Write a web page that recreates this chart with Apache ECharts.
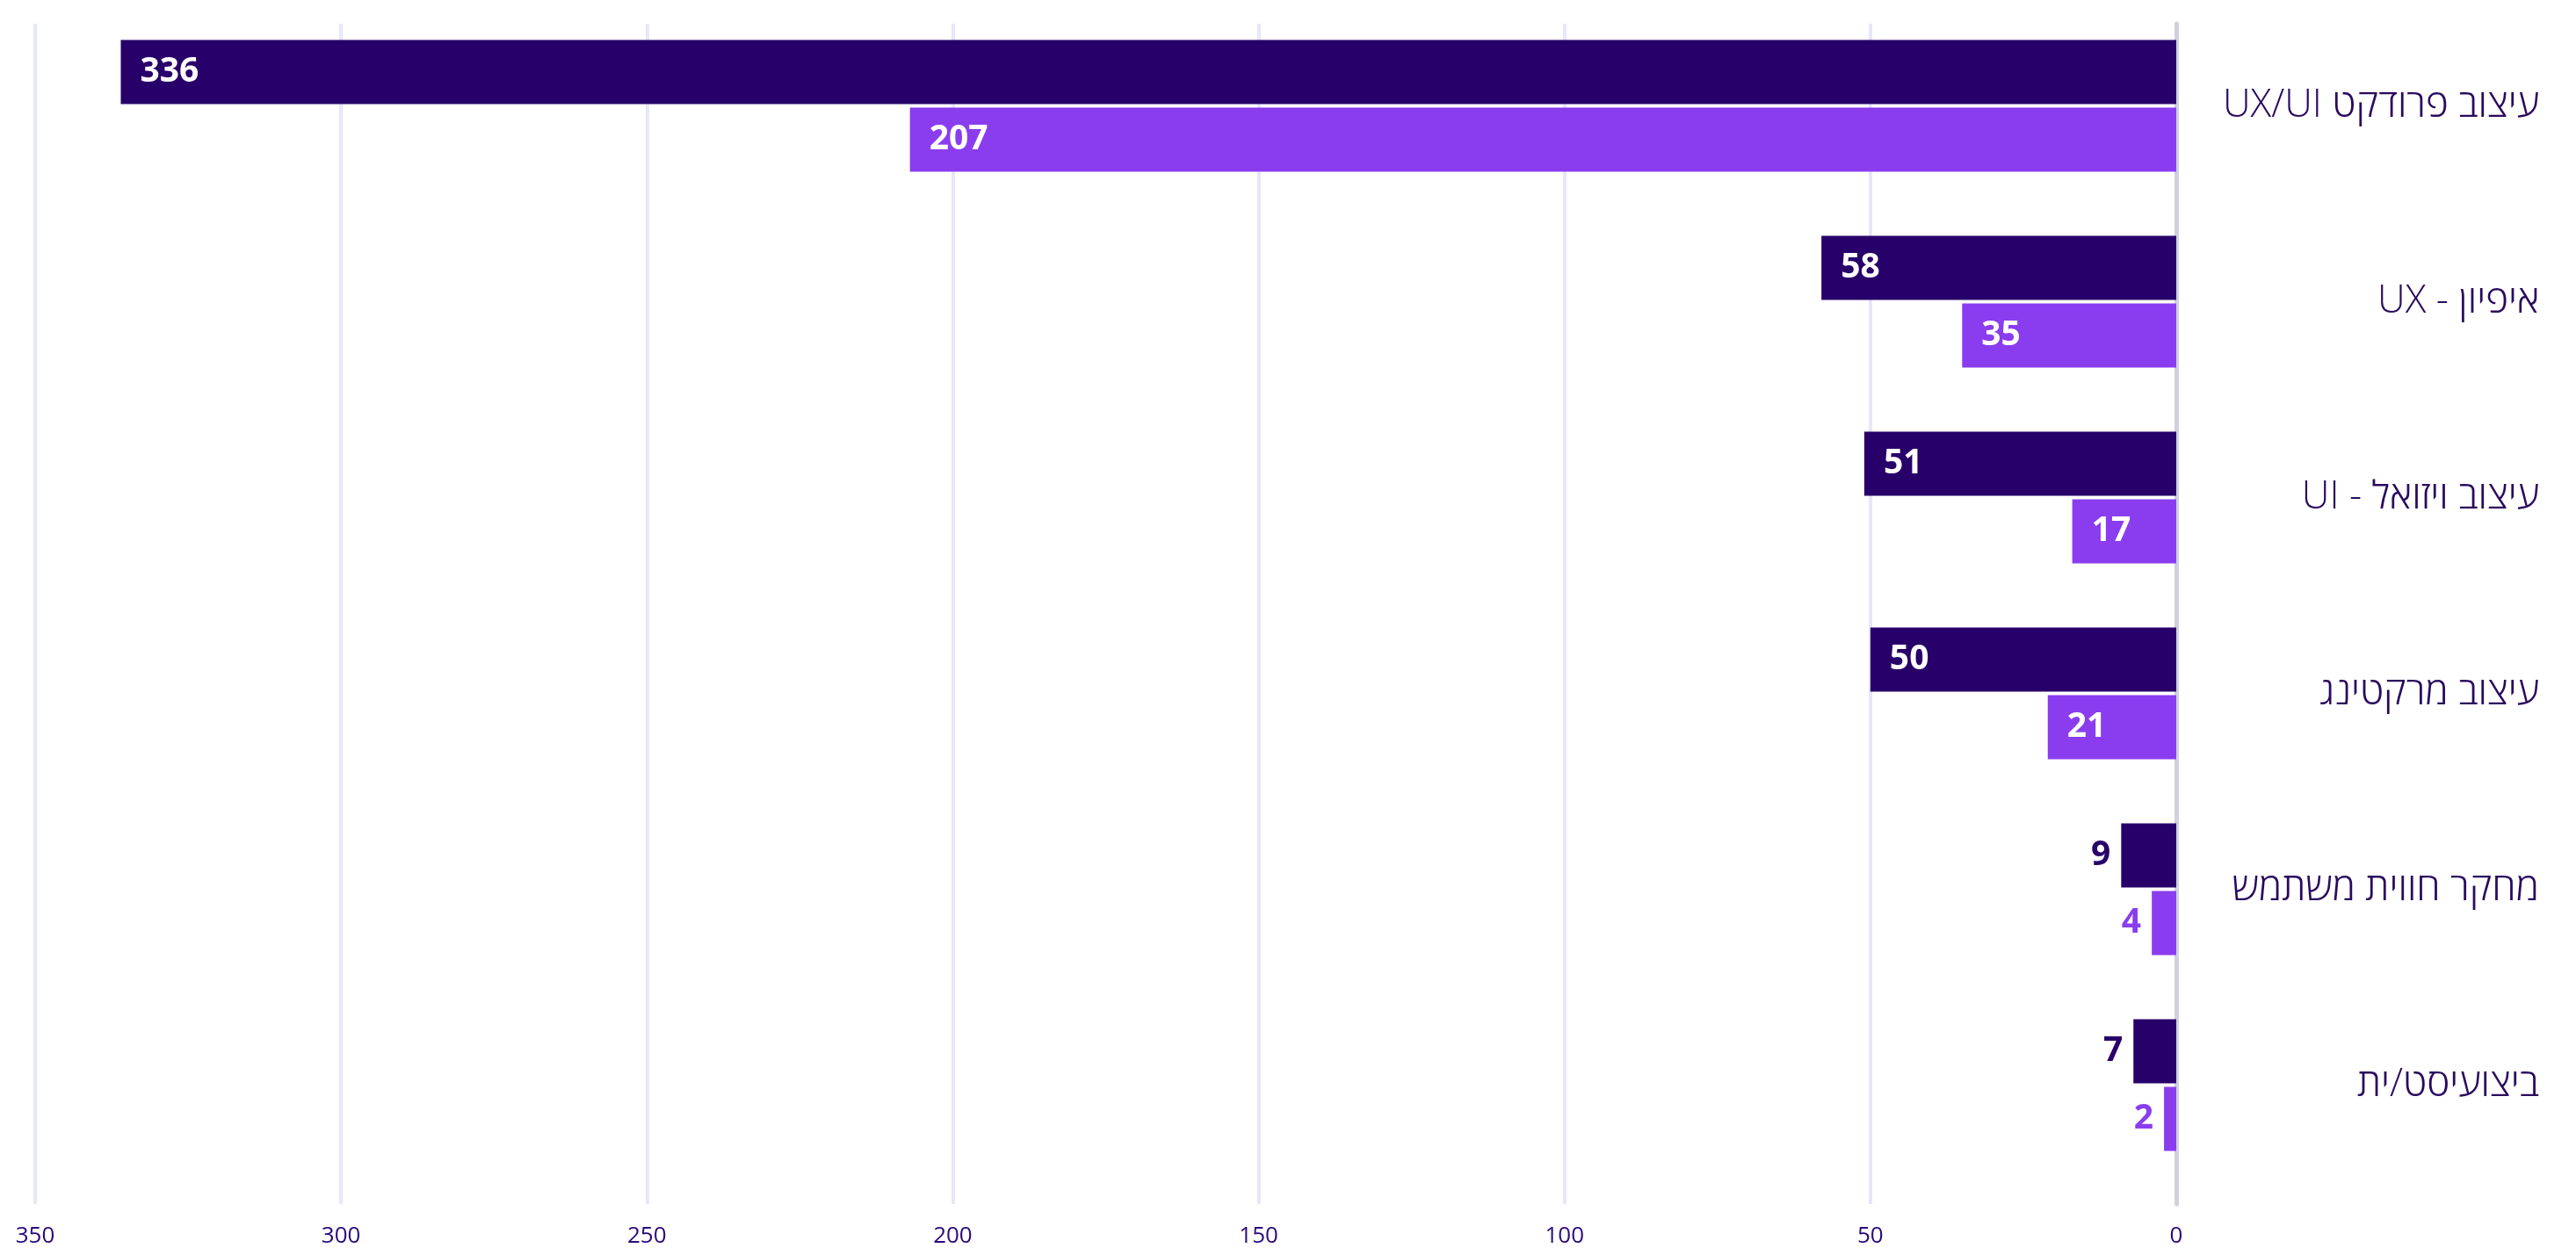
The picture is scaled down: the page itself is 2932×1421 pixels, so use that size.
<!DOCTYPE html>
<html>
<head>
<meta charset="utf-8">
<script src="https://cdn.jsdelivr.net/npm/echarts@6/dist/echarts.min.js"></script>
<style>
html,body{margin:0;padding:0;background:#fff;}
#chart{width:2932px;height:1421px;}
</style>
</head>
<body>
<div id="chart"></div>
<script>
const categories = ['עיצוב פרודקט UX/UI', 'איפיון - UX', 'עיצוב ויזואל - UI', 'עיצוב מרקטינג', 'מחקר חווית משתמש', 'ביצועיסט/ית'];
const seriesDark = [336, 58, 51, 50, 9, 7];
const seriesLight = [207, 35, 17, 21, 4, 2];
const xTicks = [0, 50, 100, 150, 200, 250, 300, 350];

const DARK = '#28006a';
const LIGHT = '#8a3dee';
const FONT = '"Open Sans", "Noto Sans", sans-serif';
const X_MIN = xTicks[0];
const X_MAX = xTicks[xTicks.length - 1];
const X_STEP = xTicks[1] - xTicks[0];

function buildData(values, color) {
  return values.map(v => {
    if (v < 10) {
      return { value: v, label: { position: 'left', distance: 12, color: color } };
    }
    return { value: v };
  });
}

function makeSeries(name, values, color) {
  return {
    name: name,
    type: 'bar',
    xAxisIndex: 0,
    yAxisIndex: 0,
    data: buildData(values, color),
    barWidth: 73,
    barGap: '5.5%',
    itemStyle: { color: color },
    label: {
      show: true,
      position: 'insideLeft',
      distance: 22,
      color: '#ffffff',
      fontFamily: FONT,
      fontWeight: 'bold',
      fontSize: 39
    },
    z: 3
  };
}

const chart = echarts.init(document.getElementById('chart'));
chart.setOption({
  animation: false,
  backgroundColor: '#ffffff',
  grid: [
    { left: 40, right: 455, top: 9, bottom: 74, containLabel: false },
    { left: 40, right: 455, top: 27, bottom: 50, containLabel: false }
  ],
  xAxis: [
    {
      gridIndex: 0,
      type: 'value',
      inverse: true,
      min: X_MIN, max: X_MAX, interval: X_STEP,
      show: false
    },
    {
      gridIndex: 1,
      type: 'value',
      inverse: true,
      min: X_MIN, max: X_MAX, interval: X_STEP,
      axisLine: { show: false },
      axisTick: { show: false },
      splitLine: { show: true, lineStyle: { color: '#e8e6fb', width: 4 } },
      axisLabel: { color: '#2a0a7a', fontFamily: FONT, fontSize: 26, margin: 24 }
    }
  ],
  yAxis: [
    {
      gridIndex: 0,
      type: 'category',
      data: categories,
      inverse: true,
      position: 'right',
      axisTick: { show: false },
      axisLine: { show: false },
      axisLabel: {
        color: '#2a0a5e',
        fontFamily: FONT,
        fontSize: 44,
        fontWeight: 300,
        align: 'right',
        margin: 413,
        formatter: v => '\u2067' + v + '\u2069'
      }
    },
    {
      gridIndex: 1,
      type: 'value',
      min: 0, max: 1,
      position: 'right',
      axisTick: { show: false },
      axisLabel: { show: false },
      splitLine: { show: false },
      axisLine: { show: true, onZero: false, lineStyle: { color: '#d3d0de', width: 5 } }
    }
  ],
  series: [
    makeSeries('A', seriesDark, DARK),
    makeSeries('B', seriesLight, LIGHT)
  ]
});
</script>
</body>
</html>
